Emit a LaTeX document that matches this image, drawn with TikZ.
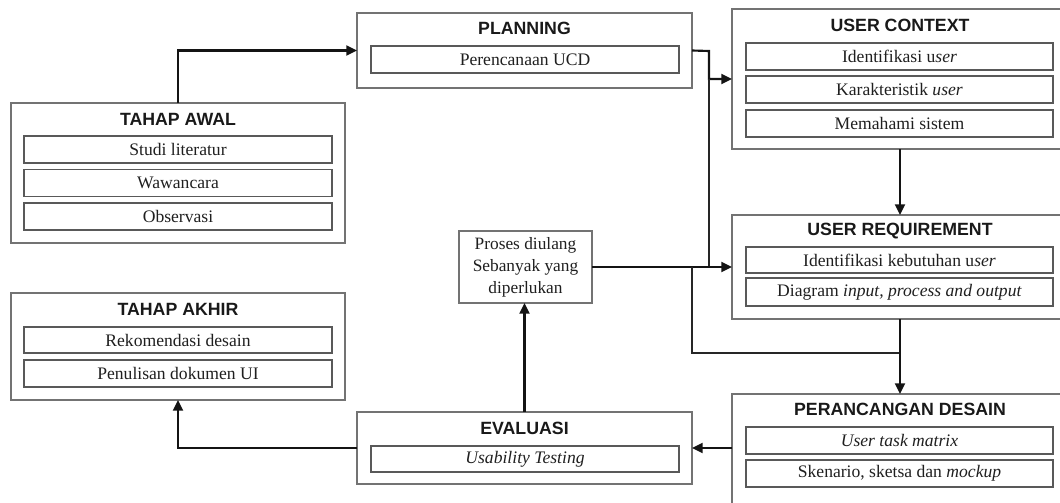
\documentclass[tikz,border=0pt]{standalone}
\usepackage{fontspec}
\setmainfont{Liberation Serif}
\setsansfont{Liberation Sans}
\usetikzlibrary{arrows.meta}
\begin{document}
\begin{tikzpicture}[x=0.75pt,y=-0.75pt,
  wh/.style 2 args={minimum width=#1*0.75pt,minimum height=#2*0.75pt},
  outerbox/.style={draw=black!55,line width=1pt,inner sep=0pt,outer sep=0pt},
  innerbox/.style={draw=black!65,line width=1.1pt,inner sep=0pt,outer sep=0pt,
    font=\fontsize{13.2}{15}\selectfont,text=black!88},
  title/.style={font=\sffamily\bfseries\fontsize{13.3}{15}\selectfont,text=black!90,inner sep=0pt},
  conn/.style={draw=black!92,line width=1.6pt,-{Triangle[length=8pt,width=7.5pt]}},
  link/.style={draw=black!85,line width=1.6pt}]
\useasboundingbox (0,0) rectangle (1060,503);
\clip (0,0) rectangle (1060,503);

% Tahap awal
\node[outerbox,wh={334}{140}] (awal) at (178,173) {};
\node[title] (awalT) at (178,119) {TAHAP AWAL};
\node[innerbox,wh={308}{27}] (awal1) at (178,149.5) {Studi literatur};
\node[innerbox,wh={308}{27}] (awal2) at (178,183) {Wawancara};
\node[innerbox,wh={308}{27}] (awal3) at (178,216.5) {Observasi};

% Planning
\node[outerbox,wh={335}{75}] (plan) at (524.5,50.5) {};
\node[title] (planT) at (524.5,28) {PLANNING};
\node[innerbox,wh={308}{27}] (plan1) at (525,59.5) {Perencanaan UCD};

% User context
\node[outerbox,wh={336}{140}] (ctx) at (900,79) {};
\node[title] (ctxT) at (900,25) {USER CONTEXT};
\node[innerbox,wh={307}{27}] (ctx1) at (899.5,56.5) {Identifikasi u\textit{ser}};
\node[innerbox,wh={307}{27}] (ctx2) at (899.5,89.5) {Karakteristik \textit{user}};
\node[innerbox,wh={307}{27}] (ctx3) at (899.5,123.5) {Memahami sistem};

% User requirement
\node[outerbox,wh={336}{104}] (req) at (900,267) {};
\node[title] (reqT) at (900,231) {USER REQUIREMENT};
\node[innerbox,wh={307}{26}] (req1) at (899.5,260) {Identifikasi kebutuhan u\textit{ser}};
\node[innerbox,wh={307}{28}] (req2) at (899.5,292) {Diagram \textit{input, process and output}};

% Perancangan desain
\node[outerbox,wh={336}{112}] (des) at (900,450) {};
\node[title] (desT) at (900,409) {PERANCANGAN DESAIN};
\node[innerbox,wh={307}{27}] (des1) at (899.5,440.5) {\textit{User task matrix}};
\node[innerbox,wh={307}{27}] (des2) at (899.5,473.5) {Skenario, sketsa dan \textit{mockup}};

% Evaluasi
\node[outerbox,wh={335}{72}] (eval) at (524.5,448) {};
\node[title] (evalT) at (524.5,428) {EVALUASI};
\node[innerbox,wh={308}{26}] (eval1) at (525,459) {\textit{Usability Testing}};

% Tahap akhir
\node[outerbox,wh={334}{107}] (akhir) at (178,346.5) {};
\node[title] (akhirT) at (178,309) {TAHAP AKHIR};
\node[innerbox,wh={308}{26}] (akhir1) at (178,340) {Rekomendasi desain};
\node[innerbox,wh={308}{27}] (akhir2) at (178,373.5) {Penulisan dokumen UI};

% Loop note
\node[outerbox,wh={133}{72},align=center,font=\fontsize{13}{16.5}\selectfont,text=black!88] (proses) at (525.5,267)
  {Proses diulang\\Sebanyak yang\\diperlukan};

% Junction points
\coordinate (jA) at (709,51);
\coordinate (jB) at (692,267);
\coordinate (jC) at (692,353);

% Connectors
\draw[conn] (awal.north) -- (awal.north |- plan.west) -- (plan.west);
\draw[conn] (plan.east) -- (jA) -- (jA |- ctx.west) -- (ctx.west);
\draw[link] (jA |- ctx.west) -- (jA |- req.west);
\draw[conn] (proses.east) -- (req.west);
\draw[link] (jB) -- (jC) -- (jC -| req.south);
\draw[conn] (ctx.south) -- (req.north);
\draw[conn] (req.south) -- (des.north);
\draw[conn] (des.west |- eval.east) -- (eval.east);
\draw[conn] (eval.north) -- (eval.north |- proses.south);
\draw[conn] (eval.west) -- (eval.west -| akhir.south) -- (akhir.south);
\end{tikzpicture}
\end{document}
